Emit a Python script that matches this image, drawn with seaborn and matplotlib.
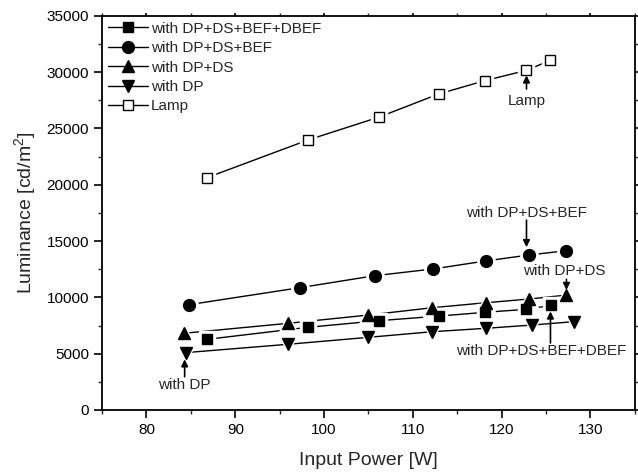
import matplotlib
matplotlib.use("Agg")
import matplotlib.pyplot as plt
import seaborn as sns
import pandas as pd
from matplotlib.lines import Line2D
from matplotlib.ticker import MultipleLocator

# ---- data ----
x_dbef = [86.8, 98.2, 106.2, 113.0, 118.1, 122.8, 125.6]
y_dbef = [6270, 7340, 7930, 8340, 8670, 8940, 9290]
x_bef = [84.8, 97.3, 105.7, 112.3, 118.2, 123.1, 127.3]
y_bef = [9350, 10860, 11920, 12520, 13230, 13760, 14140]
x_ds = [84.2, 95.9, 105.0, 112.2, 118.2, 123.1, 127.3]
y_ds = [6810, 7690, 8430, 9080, 9520, 9850, 10200]
x_dp = [84.4, 95.9, 105.0, 112.2, 118.2, 123.4, 128.1]
y_dp = [5090, 5830, 6450, 6950, 7250, 7540, 7840]
x_lamp = [86.8, 98.2, 106.2, 112.9, 118.1, 122.8, 125.5]
y_lamp = [20620, 23970, 26000, 28050, 29230, 30150, 31040]

labels = ["with DP+DS+BEF+DBEF", "with DP+DS+BEF", "with DP+DS", "with DP", "Lamp"]
xs = [x_dbef, x_bef, x_ds, x_dp, x_lamp]
ys = [y_dbef, y_bef, y_ds, y_dp, y_lamp]
markers = ["s", "o", "^", "v", "s"]
msizes = [7.5, 8.5, 8.5, 8.5, 7.5]
faces = ["black", "black", "black", "black", "white"]

# annotation texts: (text, text x, text y, arrow tail x, tail y, head x, head y)
notes = [
    ("Lamp", 122.8, 27450, 122.8, 28500, 122.8, 29700),
    ("with DP+DS+BEF", 122.8, 17450, 122.8, 16850, 122.8, 14450),
    ("with DP+DS", 127.1, 12350, 127.3, 11600, 127.3, 10650),
    ("with DP+DS+BEF+DBEF", 124.5, 5250, 125.5, 5950, 125.5, 8750),
    ("with DP", 84.3, 2200, 84.3, 2950, 84.3, 4500),
]

sns.set_style("white")
plt.rcParams["font.family"] = ["Liberation Sans", "DejaVu Sans"]
plt.rcParams["mathtext.fontset"] = "custom"
plt.rcParams["mathtext.rm"] = "Liberation Sans"
plt.rcParams["mathtext.it"] = "Liberation Sans:italic"

fig = plt.figure(figsize=(6.38, 4.73), dpi=100)
ax = fig.add_axes([0.16, 0.1332, 0.835, 0.8336])

frames = []
for lab, x, y in zip(labels, xs, ys):
    frames.append(pd.DataFrame({"x": x, "y": y, "series": lab}))
df = pd.concat(frames, ignore_index=True)

# connecting lines
sns.lineplot(data=df, x="x", y="y", units="series", estimator=None,
             color="black", lw=1.0, sort=False, legend=False, ax=ax, zorder=2)

# white halos to create gaps, then markers
for lab, m, ms, fc in zip(labels, markers, msizes, faces):
    sub = df[df["series"] == lab]
    ax.plot(sub["x"], sub["y"], ls="none", marker=m, ms=ms + 4,
            mfc="white", mec="white", zorder=3)
    ax.plot(sub["x"], sub["y"], ls="none", marker=m, ms=ms,
            mfc=fc, mec="black", mew=1.0, zorder=4)

ax.set_xlim(75, 135)
ax.set_ylim(0, 35000)
ax.xaxis.set_major_locator(MultipleLocator(10))
ax.xaxis.set_minor_locator(MultipleLocator(5))
ax.yaxis.set_major_locator(MultipleLocator(5000))
ax.yaxis.set_minor_locator(MultipleLocator(2500))

for s in ax.spines.values():
    s.set_color("black")
    s.set_linewidth(1.3)

ax.tick_params(axis="both", which="major", direction="out", length=6, width=1.2,
               labelsize=11, colors="black", bottom=True, left=True)
ax.tick_params(axis="both", which="minor", direction="out", length=3, width=1.0,
               bottom=True, left=True)
ax.tick_params(axis="both", which="both", top=True, right=True)
for t in ax.xaxis.get_ticklines(minor=False)[1::2] + ax.xaxis.get_ticklines(minor=True)[1::2]:
    t.set_markersize(2)
for t in ax.yaxis.get_ticklines(minor=False)[1::2] + ax.yaxis.get_ticklines(minor=True)[1::2]:
    t.set_markersize(2)

ax.set_xlabel("Input Power [W]", fontsize=14, labelpad=11)
ax.set_ylabel("Luminance [cd/m$^2$]", fontsize=14, labelpad=6)

# legend
handles = [Line2D([0], [0], color="black", lw=1.0, marker=m, ms=ms, mfc=fc, mec="black")
           for m, ms, fc in zip(markers, msizes, faces)]
ax.legend(handles, labels, loc="upper left", frameon=False, fontsize=11,
          handlelength=2.6, handletextpad=0.2, labelspacing=0.35,
          borderaxespad=0.2, borderpad=0.2)

# annotations: text + separate arrow
arw = dict(arrowstyle="-|>", color="black", lw=1.2, mutation_scale=10,
           shrinkA=0, shrinkB=0)
for txt, tx, ty, ax0, ay0, ax1, ay1 in notes:
    ax.text(tx, ty, txt, ha="center", va="center", fontsize=11, zorder=6)
    ax.annotate("", xy=(ax1, ay1), xytext=(ax0, ay0), arrowprops=arw, zorder=6)

fig.savefig("out.png", dpi=100)
